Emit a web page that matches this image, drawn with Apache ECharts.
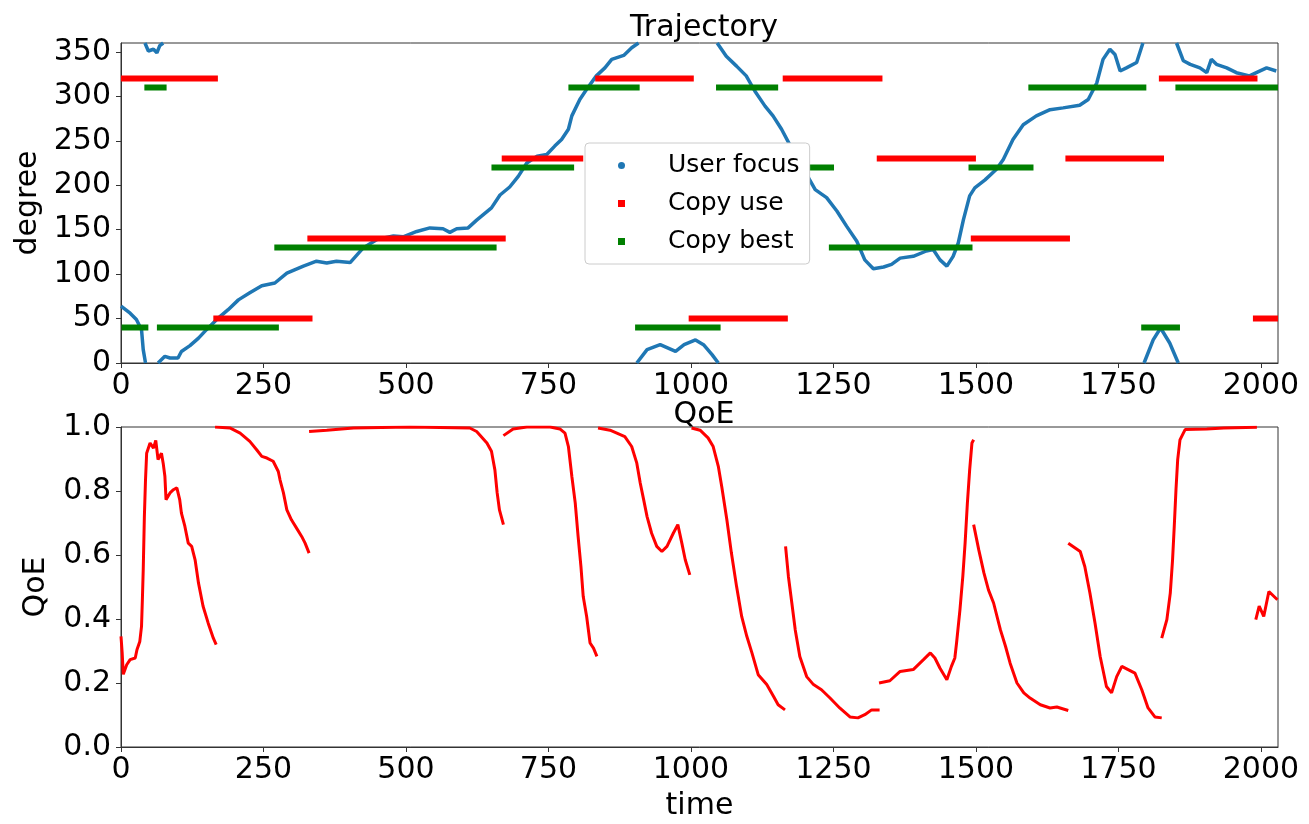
<!DOCTYPE html>
<html><head><meta charset="utf-8">
<script src="https://cdn.jsdelivr.net/npm/echarts@6/dist/echarts.min.js"></script>
<style>html,body{margin:0;padding:0;background:#fff}#c{width:1309px;height:824px}</style>
</head><body><div id="c"></div>
<script>
// ---------- data ----------
const xTicks = [0, 250, 500, 750, 1000, 1250, 1500, 1750, 2000];
const degreeTicks = [0, 50, 100, 150, 200, 250, 300, 350];
const qoeTicks = [0, 0.2, 0.4, 0.6, 0.8, 1.0];

// User focus trajectory (time, degree), split where it wraps 360 -> 0
const focus1 = [[0,64],[16,56],[27,49],[36,37.5],[39,15],[43,0]];
const focus2 = [[42,360],[48,351],[57,353],[63,349],[68,357],[74,360]];
const focus3 = [[65,0],[77,7.5],[86,5.6],[100,5.6],[106,13],[121,19.5],[136,28],[150,37.5],[168,49],[188,60],[206,71],[226,79],[247,87],[270,90],[291,101],[320,109],[343,114.5],[361,112.6],[378,114.5],[402,113],[425,129.5],[449,139],[478,143],[495,142],[519,148],[542,152],[565,151],[577,147],[589,151],[609,152],[624,160.7],[650,174.5],[665,189],[682,198],[697,210],[712,225],[730,232.7],[747,234.6],[761,244],[773,251.5],[785,263],[791,278],[805,296.5],[817,308],[834,323],[849,332],[861,341.6],[882,346],[896,354.7],[908,360]];
const focus4 = [[905,0],[923,15],[946,20.6],[973,13],[988,20.6],[1008,26],[1022,20.6],[1037,9.4],[1048,0]];
const focus5 = [[1046,360],[1062,345],[1080,334],[1097,323],[1112,306],[1130,289],[1144,278],[1159,263],[1173,246],[1218,195],[1238,186],[1256,171],[1273,154],[1291,137],[1305,116],[1320,106],[1338,108],[1352,111],[1367,118],[1390,120],[1413,126],[1425,127.6],[1437,116],[1449,109],[1460,120],[1469,135],[1478,161],[1489,188],[1498,197],[1516,206],[1536,218],[1548,229],[1565,251.5],[1583,268],[1606,278],[1630,285],[1653,287],[1682,290],[1697,296.5],[1712,315],[1723,341.6],[1735,353],[1744,347],[1753,328.5],[1764,332],[1782,338],[1793,360]];
const focus6 = [[1795,0],[1811,26],[1824,39.4],[1840,22.5],[1855,0]];
const focus7 = [[1852,360],[1864,340],[1876,336],[1893,332],[1905,326.6],[1913,341.6],[1922,336],[1940,332],[1957,326.6],[1980,323],[1992,326.6],[2010,332],[2027,328.5]];

// Copy use / Copy best: [start time, end time, degree]
const copyUse = [[0,170,320],[162,336,50],[327,675,140],[668,811,230],[832,1005,320],[996,1170,50],[1161,1336,320],[1326,1500,230],[1491,1665,140],[1657,1830,230],[1821,1994,320],[1986,2030,50]];
const copyBest = [[1,48,40],[41,80,310],[63,277,40],[269,659,130],[650,795,220],[785,910,310],[902,1052,40],[1044,1153,310],[1153,1251,220],[1242,1494,130],[1487,1601,220],[1592,1799,310],[1790,1858,40],[1850,2030,310]];

// QoE (time, qoe) pieces
const qoe1 = [[0,0.346],[2,0.296],[4,0.227],[10,0.257],[16,0.273],[25,0.278],[28,0.304],[33,0.33],[36,0.377],[37.5,0.46],[39,0.554],[41,0.72],[43,0.835],[45,0.918],[51,0.95],[57,0.934],[61,0.958],[65,0.898],[71,0.918],[74,0.887],[77,0.846],[79,0.773],[86,0.794],[92,0.804],[98,0.81],[103,0.773],[106,0.731],[112,0.69],[118,0.637],[124,0.627],[130,0.585],[136,0.512],[144,0.44],[153,0.387],[162,0.34],[167,0.32]];
const qoe2 = [[165,1.0],[191,0.997],[209,0.981],[226,0.955],[238,0.929],[247,0.908],[256,0.903],[267,0.893],[276,0.861],[279,0.835],[285,0.794],[291,0.741],[299,0.71],[308,0.684],[317,0.658],[323,0.637],[330,0.606]];
const qoe3 = [[330,0.986],[361,0.99],[408,0.997],[507,1.0],[612,0.997],[624,0.986],[642,0.95],[650,0.924],[656,0.866],[660,0.794],[664,0.741],[671,0.695]];
const qoe4 = [[671,0.973],[688,0.994],[712,1.0],[753,1.0],[770,0.994],[779,0.981],[785,0.939],[791,0.846],[797,0.762],[802,0.658],[807,0.564],[811,0.47],[817,0.408],[823,0.325],[829,0.309],[835,0.283]];
const qoe5 = [[837,0.997],[858,0.99],[884,0.97],[896,0.939],[905,0.887],[911,0.825],[917,0.773],[923,0.72],[931,0.668],[940,0.627],[949,0.611],[958,0.627],[969,0.668],[977,0.695],[984,0.637],[990,0.585],[998,0.538]];
const qoe6 = [[1001,0.997],[1016,0.99],[1030,0.966],[1039,0.939],[1048,0.877],[1054,0.814],[1063,0.71],[1071,0.606],[1080,0.502],[1089,0.408],[1098,0.346],[1107,0.294],[1118,0.226],[1133,0.195],[1145,0.158],[1153,0.132],[1165,0.116]];
const qoe7 = [[1166,0.627],[1171,0.533],[1177,0.45],[1183,0.366],[1191,0.283],[1203,0.22],[1215,0.195],[1229,0.179],[1244,0.153],[1261,0.122],[1279,0.094],[1293,0.091],[1305,0.101],[1317,0.116],[1331,0.116]];
const qoe8 = [[1330,0.2],[1349,0.207],[1367,0.236],[1390,0.242],[1408,0.273],[1420,0.294],[1428,0.278],[1437,0.246],[1449,0.21],[1457,0.252],[1463,0.278],[1466,0.325],[1472,0.429],[1477,0.533],[1481,0.637],[1485,0.762],[1489,0.866],[1493,0.95],[1496,0.96]];
const qoe9 = [[1496,0.695],[1505,0.616],[1514,0.544],[1522,0.491],[1531,0.45],[1543,0.366],[1552,0.314],[1560,0.262],[1572,0.2],[1584,0.169],[1595,0.153],[1613,0.132],[1630,0.122],[1642,0.125],[1662,0.114]];
const qoe10 = [[1662,0.637],[1683,0.611],[1691,0.564],[1700,0.481],[1709,0.387],[1718,0.283],[1729,0.189],[1738,0.169],[1747,0.22],[1756,0.252],[1767,0.242],[1779,0.231],[1791,0.179],[1802,0.122],[1814,0.094],[1826,0.091]];
const qoe11 = [[1826,0.34],[1835,0.398],[1841,0.481],[1845,0.585],[1848,0.69],[1851,0.804],[1854,0.898],[1858,0.96],[1867,0.992],[1905,0.994],[1935,0.997],[1993,0.999]];
const qoe12 = [[1991,0.398],[1997,0.44],[2005,0.408],[2014,0.486],[2029,0.46]];

// ---------- build ----------
function joinPieces(pieces) {
  const out = [];
  pieces.forEach((p, i) => {
    if (i > 0) out.push([p[0][0], '-']);
    p.forEach(pt => out.push(pt));
  });
  return out;
}
function levelPieces(list) {
  return joinPieces(list.map(([a, b, v]) => [[a, v], [b, v]]));
}

const FONT = 'DejaVu Sans';
const axisCommon = {
  axisLine: { show: true, lineStyle: { color: '#333', width: 1 } },
  axisTick: { show: true, length: 5, lineStyle: { color: '#333', width: 1 } },
  splitLine: { show: false },
  axisLabel: { color: '#000', fontFamily: FONT, fontSize: 30 }
};
function xAxis(gridIndex, name) {
  return Object.assign({}, axisCommon, {
    type: 'value', gridIndex, min: 0, max: 2030,
    name: name || '', nameLocation: 'middle', nameGap: 44,
    nameTextStyle: { color: '#000', fontFamily: FONT, fontSize: 30 },
    axisTick: Object.assign({}, axisCommon.axisTick, { customValues: xTicks }),
    axisLabel: Object.assign({}, axisCommon.axisLabel, { customValues: xTicks, margin: 8,
      formatter: v => String(v) })
  });
}

const chart = echarts.init(document.getElementById('c'), null, { renderer: 'canvas' });
chart.setOption({
  animation: false,
  backgroundColor: '#fff',
  title: [
    { text: 'Trajectory', left: 699, top: 8, textAlign: 'center',
      textStyle: { fontFamily: FONT, fontSize: 30, fontWeight: 'normal', color: '#000' } },
    { text: 'QoE', left: 699, top: 395, textAlign: 'center',
      textStyle: { fontFamily: FONT, fontSize: 30, fontWeight: 'normal', color: '#000' } }
  ],
  grid: [
    { left: 121, top: 43, width: 1157, height: 320, show: true, borderColor: '#333', borderWidth: 1, backgroundColor: 'transparent' },
    { left: 121, top: 427, width: 1157, height: 320, show: true, borderColor: '#333', borderWidth: 1, backgroundColor: 'transparent' }
  ],
  xAxis: [xAxis(0), xAxis(1, 'time')],
  yAxis: [
    Object.assign({}, axisCommon, {
      type: 'value', gridIndex: 0, min: 0, max: 360,
      name: 'degree', nameLocation: 'middle', nameGap: 72,
      nameTextStyle: { color: '#000', fontFamily: FONT, fontSize: 30 },
      axisTick: Object.assign({}, axisCommon.axisTick, { customValues: degreeTicks }),
      axisLabel: Object.assign({}, axisCommon.axisLabel, { customValues: degreeTicks, margin: 10,
        formatter: v => String(v) })
    }),
    Object.assign({}, axisCommon, {
      type: 'value', gridIndex: 1, min: 0, max: 1,
      name: 'QoE', nameLocation: 'middle', nameGap: 70,
      nameTextStyle: { color: '#000', fontFamily: FONT, fontSize: 30 },
      axisTick: Object.assign({}, axisCommon.axisTick, { customValues: qoeTicks }),
      axisLabel: Object.assign({}, axisCommon.axisLabel, { customValues: qoeTicks, margin: 10,
        formatter: v => Number(v).toFixed(1) })
    })
  ],
  legend: {
    orient: 'vertical', left: 585, top: 143,
    padding: [10, 10, 10, 33], itemGap: 13,
    itemWidth: 7, itemHeight: 7,
    backgroundColor: '#ffffff', borderColor: '#cccccc', borderWidth: 1, borderRadius: 4,
    textStyle: { fontFamily: FONT, fontSize: 25, color: '#000', padding: [0, 0, 0, 38] },
    data: [
      { name: 'User focus', icon: 'circle' },
      { name: 'Copy use', icon: 'rect' },
      { name: 'Copy best', icon: 'rect' }
    ]
  },
  series: [
    { name: 'User focus', type: 'line', xAxisIndex: 0, yAxisIndex: 0, showSymbol: false, symbol: 'none',
      connectNulls: false, color: '#1f77b4',
      lineStyle: { color: '#1f77b4', width: 3.5 },
      data: joinPieces([focus1, focus2, focus3, focus4, focus5, focus6, focus7]) },
    { name: 'Copy use', type: 'line', xAxisIndex: 0, yAxisIndex: 0, showSymbol: false, symbol: 'none',
      connectNulls: false, color: '#ff0000',
      lineStyle: { color: '#ff0000', width: 6, cap: 'butt' },
      data: levelPieces(copyUse) },
    { name: 'Copy best', type: 'line', xAxisIndex: 0, yAxisIndex: 0, showSymbol: false, symbol: 'none',
      connectNulls: false, color: '#008000',
      lineStyle: { color: '#008000', width: 6, cap: 'butt' },
      data: levelPieces(copyBest) },
    { name: 'QoE', type: 'line', xAxisIndex: 1, yAxisIndex: 1, showSymbol: false, symbol: 'none',
      connectNulls: false, color: '#ff0000',
      lineStyle: { color: '#ff0000', width: 3 },
      data: joinPieces([qoe1, qoe2, qoe3, qoe4, qoe5, qoe6, qoe7, qoe8, qoe9, qoe10, qoe11, qoe12]) }
  ]
});
</script>
</body></html>
